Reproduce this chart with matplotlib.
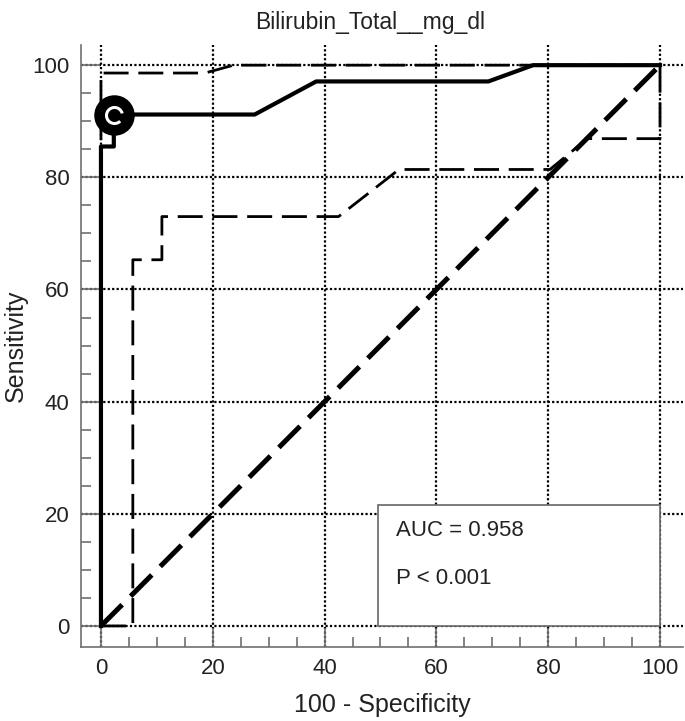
import numpy as np
import matplotlib
matplotlib.use("Agg")
import matplotlib.pyplot as plt
from matplotlib.patches import Rectangle, Wedge
from matplotlib.ticker import MultipleLocator

plt.rcParams['font.family'] = ['Liberation Sans', 'DejaVu Sans']

# ROC curve and its confidence bounds (100-Specificity, Sensitivity)
roc_x = [0, 0, 2.3, 2.3, 27.5, 38.5, 69.3, 77.3, 100]
roc_y = [0, 85.5, 85.5, 91.2, 91.2, 97.1, 97.1, 100, 100]
upper_x = [0, 0, 18.6, 23.7, 100]
upper_y = [0, 98.6, 98.6, 100, 100]
lower_x = [0, 5.7, 5.7, 10.9, 10.9, 42.5, 53.3, 80.3, 87, 100, 100]
lower_y = [0, 0, 65.3, 65.3, 73.0, 73.0, 81.4, 81.4, 86.9, 86.9, 100]
ref_x = [0, 100]
ref_y = [0, 100]
crit_x, crit_y = 2.3, 91.2

title = "Bilirubin_Total__mg_dl"
auc_text = "AUC = 0.958"
p_text = "P < 0.001"

fig = plt.figure(figsize=(6.85, 7.21), dpi=100)
ax = fig.add_axes([0.118, 0.1026, 0.879, 0.835])
ax.set_xlim(-3.6, 104.1)
ax.set_ylim(-3.76, 103.6)

# dotted grid
for v in range(0, 101, 20):
    ax.axvline(v, color="black", lw=1.6, ls=(0, (1, 1)), zorder=1)
    ax.axhline(v, color="black", lw=1.6, ls=(0, (1, 1)), zorder=1)

# info box
ax.add_patch(Rectangle((49.5, 0), 50.5, 21.6, facecolor="white",
                       edgecolor="#666666", lw=1.2, zorder=2))
ax.text(52.8, 17.0, auc_text, fontsize=16, color="#222222", va="center", zorder=3)
ax.text(52.8, 8.4, p_text, fontsize=16, color="#222222", va="center", zorder=3)

# curves
ax.plot(ref_x, ref_y, color="black", lw=3.6, ls=(0, (6, 2.4)), zorder=4,
        solid_capstyle="butt", dash_capstyle="butt")
ax.plot(lower_x, lower_y, color="black", lw=2.0, ls=(0, (9, 3.5)), zorder=4,
        dash_capstyle="butt")
ax.plot(upper_x, upper_y, color="black", lw=2.0, ls=(0, (9, 3.5)), zorder=4,
        dash_capstyle="butt")
ax.plot(roc_x, roc_y, color="black", lw=3.0, zorder=5)

# criterion marker
ring = Wedge((0, 0), 1.0, 15, 315, width=0.32).get_path()
ax.scatter([crit_x], [crit_y], s=850, color="black", zorder=6, linewidths=0)
ax.scatter([crit_x], [crit_y], s=190, marker=ring, color="white", zorder=7,
           linewidths=0)

# axes styling
for side in ["top", "right"]:
    ax.spines[side].set_visible(False)
for side in ["left", "bottom"]:
    ax.spines[side].set_color("#707070")
    ax.spines[side].set_linewidth(1.2)

ax.xaxis.set_major_locator(MultipleLocator(20))
ax.yaxis.set_major_locator(MultipleLocator(20))
ax.xaxis.set_minor_locator(MultipleLocator(5))
ax.yaxis.set_minor_locator(MultipleLocator(5))
ax.tick_params(which="major", direction="in", length=14, width=1.2,
               color="#707070", labelsize=16, labelcolor="#222222", pad=8)
ax.tick_params(which="minor", direction="in", length=7, width=1.2,
               color="#707070")

ax.set_xlabel("100 - Specificity", fontsize=18, color="#222222", labelpad=10)
ax.set_ylabel("Sensitivity", fontsize=18, color="#222222", va="center")
ax.yaxis.set_label_coords(-0.108, 0.5)
fig.text(0.54, 0.985, title, fontsize=16.5, color="#222222",
         ha="center", va="top")

fig.savefig("out.png", dpi=100)
